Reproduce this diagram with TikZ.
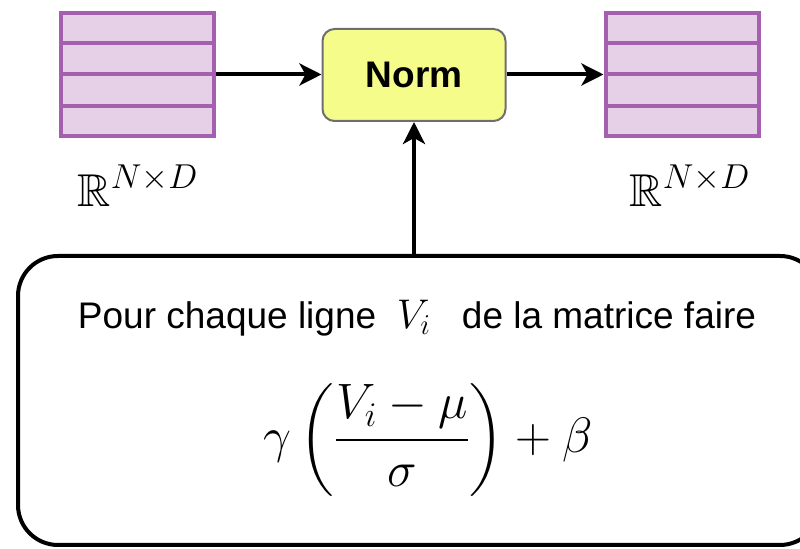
\documentclass[tikz,border=0pt]{standalone}
\usepackage{fontspec}
\setmainfont{Liberation Sans}
\usepackage{amsmath,amssymb}
\usetikzlibrary{arrows.meta,positioning,calc}
\definecolor{MatFill}{HTML}{E6D0E8}
\definecolor{MatLine}{HTML}{A55FAF}
\definecolor{NormFill}{HTML}{F6FC8A}
\definecolor{NormLine}{HTML}{6E6E6E}

\begin{document}
\begin{tikzpicture}[x=0.5pt, y=-0.5pt,
  mat/.style={draw=MatLine, line width=2pt, fill=MatFill, minimum width=76.5pt, minimum height=61.5pt, inner sep=0pt},
  normbox/.style={draw=NormLine, line width=1pt, fill=NormFill, rounded corners=6pt, minimum width=91.5pt, minimum height=46pt, font=\fontsize{18.5}{22}\selectfont\bfseries},
  rulebox/.style={draw, line width=2pt, rounded corners=20pt, minimum width=401pt, minimum height=144.5pt},
  arr/.style={-{Stealth[length=11pt, width=11pt, inset=3pt]}, line width=2pt},
  lbl/.style={font=\fontsize{23}{27}\selectfont}
]
\useasboundingbox (0,0) rectangle (800,549);
% matrices
\node[mat] (inmat) at (137.5,74.5) {};
\node[mat] (outmat) at (682,74.5) {};
\foreach \m in {inmat,outmat}
  \foreach \r in {1,2,3}
    \draw[MatLine, line width=2pt] ($(\m.north west)!\r/4!(\m.south west)$) -- ($(\m.north east)!\r/4!(\m.south east)$);
\node[lbl] (inlbl) at (138,186) {$\mathbb{R}^{N\times D}$};
\node[lbl] (outlbl) at (690,186) {$\mathbb{R}^{N\times D}$};
% norm layer
\node[normbox] (norm) at (414,75) {Norm};
% rule
\node[rulebox] (rule) at (419,400.5) {};
\node[font=\fontsize{18.5}{22}\selectfont] (rowtxt) at (417,318) {Pour chaque ligne \ {\fontsize{22}{26}\selectfont$V_i$} \ \ de la matrice faire};
\node[font=\fontsize{23.5}{28}\selectfont] (formula) at (428,440) {$\displaystyle \gamma\left(\frac{V_i-\mu}{\sigma}\right)+\beta$};
% connectors
\draw[arr] (inmat.east) -- (inmat.east -| norm.west);
\draw[arr] (norm.east |- outmat.west) -- (outmat.west);
\draw[arr] (norm.south |- rule.north) -- (norm.south);
\end{tikzpicture}
\end{document}
